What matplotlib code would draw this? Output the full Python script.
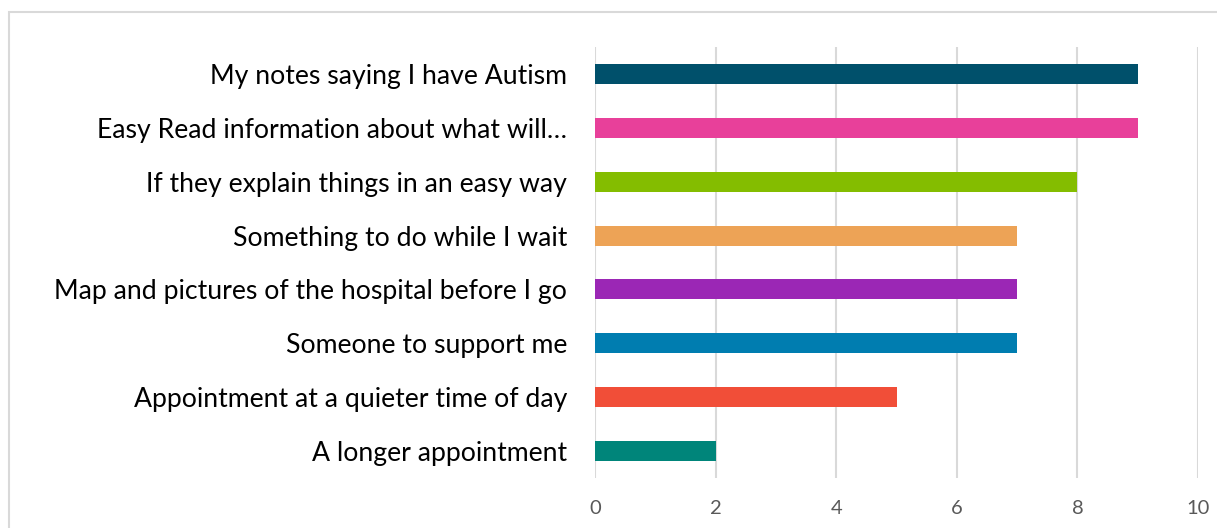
import matplotlib.pyplot as plt
from matplotlib.patches import Rectangle

# data, top to bottom
labels = [
    "My notes saying I have Autism",
    "Easy Read information about what will…",
    "If they explain things in an easy way",
    "Something to do while I wait",
    "Map and pictures of the hospital before I go",
    "Someone to support me",
    "Appointment at a quieter time of day",
    "A longer appointment",
]
values = [9, 9, 8, 7, 7, 7, 5, 2]
colors = ["#00506B", "#E8409A", "#84BD00", "#EDA356", "#9B27B5", "#007DB0", "#F14E38", "#00857A"]
xticks = [0, 2, 4, 6, 8, 10]

plt.rcParams['font.family'] = ['Lato', 'DejaVu Sans']

fig = plt.figure(figsize=(12.17, 5.28), dpi=100)
ax = fig.add_axes([595 / 1217, 1 - 478 / 528, 603 / 1217, 431 / 528])

ypos = list(range(len(labels)))[::-1]
ax.barh(ypos, values, height=0.37, color=colors, zorder=3)

ax.set_xlim(0, 10)
ax.set_ylim(-0.5, len(labels) - 0.5)
ax.set_xticks(xticks)
ax.set_xticklabels([str(t) for t in xticks], color="#595959", fontsize=14.5)
ax.set_yticks(ypos)
ax.set_yticklabels(labels, fontsize=19.2, color="black")
ax.tick_params(axis='y', length=0, pad=20)
ax.tick_params(axis='x', length=0, pad=16)
ax.grid(axis='x', color="#D9D9D9", linewidth=1.5, zorder=0)
for s in ax.spines.values():
    s.set_visible(False)

# outer chart border (cut off at right and bottom)
fig.patches.append(Rectangle((9 / 1217, -0.1), 1.2, 1 - 12 / 528 + 0.1,
                             transform=fig.transFigure, fill=False,
                             edgecolor="#D9D9D9", linewidth=1.5))

fig.savefig("out.png", dpi=100)
